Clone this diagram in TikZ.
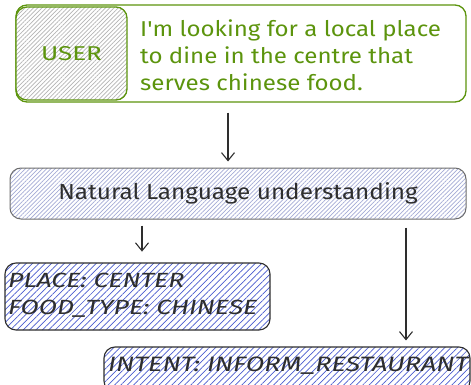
\documentclass[tikz,border=0pt]{standalone}
\usepackage{fontspec}
\setmainfont{Fira Sans}
\newfontfamily\handfont[FakeStretch=1.12]{Fira Sans}
\newfontfamily\capsfont[FakeStretch=1.3]{Fira Sans}
\usetikzlibrary{arrows.meta,patterns.meta}

\definecolor{leaf}{HTML}{5C940D}
\definecolor{ink}{HTML}{2E2E2E}
\definecolor{haze}{HTML}{A4ABD6}
\definecolor{indigo}{HTML}{4A5CCF}
\definecolor{pencil}{HTML}{B4B4B4}

\tikzset{
  box/.style={draw, rounded corners=11pt, line width=1.3pt, inner sep=0pt},
  hatch/.style 2 args={preaction={fill=white},
    pattern={Lines[angle=45,distance=#1,line width=0.7pt]}, pattern color=#2},
  arr/.style={draw=ink, line width=1.1pt, -{Straight Barb[length=8pt,width=13pt,line width=1.1pt]}},
  slot/.style={font=\capsfont\fontsize{20.5}{27}\selectfont\itshape, text=ink, align=left}
}

\begin{document}
\begin{tikzpicture}[x=1pt,y=-1pt]
\useasboundingbox (0,0) rectangle (471,385);
\clip (0,0) rectangle (471,385);

% user utterance
\node[box, draw=leaf, minimum width=450pt, minimum height=97pt] (msg) at (241,53.5) {};
\node[box, draw=leaf, hatch={3pt}{pencil}, minimum width=111pt, minimum height=93pt,
      font=\capsfont\fontsize{20}{22}\selectfont, text=leaf] (user) at (71.5,53.5) {USER};
\node[anchor=west, align=left, inner sep=0pt, text=leaf,
      font=\handfont\fontsize{21.5}{27}\selectfont] (utt) at (140,55)
  {I'm looking for a local place\\to dine in the centre that\\serves chinese food.};

% understanding stage
\node[box, draw=ink!70, line width=1pt, hatch={3pt}{haze}, minimum width=456pt, minimum height=51pt,
      font=\handfont\fontsize{21.7}{24}\selectfont, text=ink] (nlu) at (238,193.5) {Natural Language understanding};

% outputs
\node[box, draw=ink, line width=1.1pt, hatch={4.5pt}{indigo}, minimum width=265pt, minimum height=67pt] (slots) at (137.5,296.5) {};
\node[slot, anchor=west, inner sep=0pt] (slottext) at (8,295) {PLACE: CENTER\\FOOD\_TYPE: CHINESE};

\node[box, draw=ink, line width=1.1pt, hatch={4.5pt}{indigo}, minimum width=366pt, minimum height=45pt] (intent) at (287,369.5) {};
\node[slot, anchor=west, inner sep=0pt, font=\capsfont\fontsize{20.8}{27}\selectfont\itshape] (intenttext) at (108,366) {INTENT: INFORM\_RESTAURANT};

% connectors
\draw[arr] ([xshift=-13pt,yshift=-10pt]msg.south) -- ([xshift=-10pt,yshift=6pt]nlu.north);
\draw[arr] ([xshift=-96pt,yshift=-6pt]nlu.south) -- ([xshift=4.5pt,yshift=11pt]slots.north);
\draw[arr] ([xshift=168pt,yshift=-8pt]nlu.south) -- ([xshift=119pt,yshift=6pt]intent.north);
\end{tikzpicture}
\end{document}
